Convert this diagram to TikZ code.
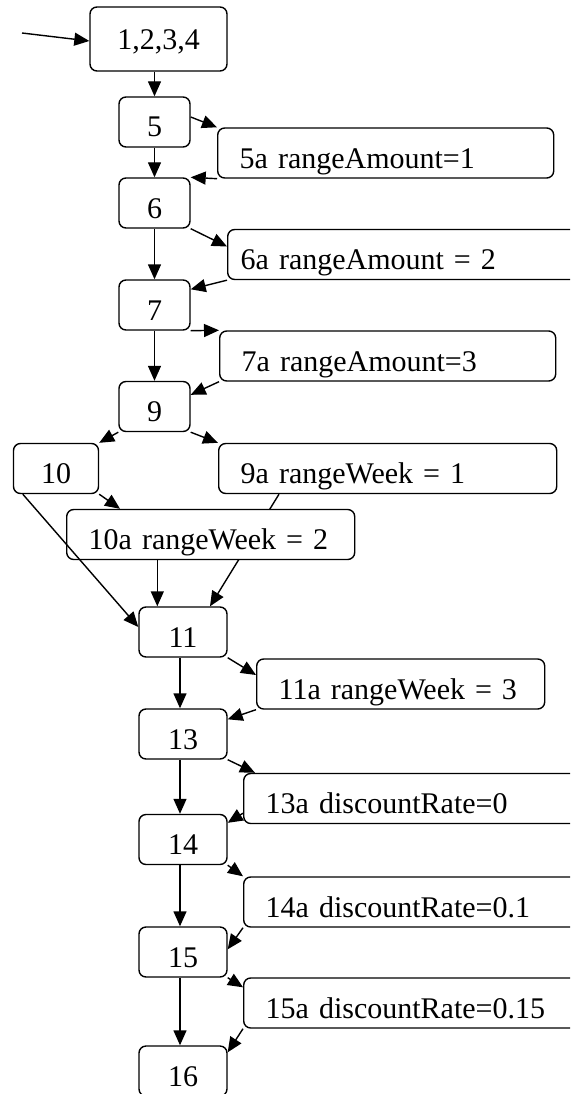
\documentclass[tikz,border=0pt]{standalone}
\usepackage{fontspec}
\setmainfont{Liberation Serif}
\usetikzlibrary{arrows.meta}

\tikzset{
  blk/.style={draw, rounded corners=7pt, line width=1.4pt, fill=white,
    minimum height=50pt, inner ysep=0pt, inner xsep=0pt,
    text height=30pt, text depth=0pt, font=\fontsize{30}{36}\selectfont},
  act/.style={blk, anchor=west, align=left, inner xsep=22pt, text width=#1},
  flow/.style={-{Triangle[length=15pt,width=13pt]}, line width=1.4pt},
}

\begin{document}
\begin{tikzpicture}[x=1pt, y=-1pt]
	\useasboundingbox (0,0) rectangle (570,1094);
	\clip (0,0) rectangle (570,1094);
	
	% main chain
	\node[blk, minimum width=137pt, minimum height=64pt, text height=22pt] (n1234) at (158.5,39) {1,2,3,4};
	\node[blk, minimum width=71pt] (n5) at (154.5,122) {5};
	\node[blk, minimum width=71pt] (n6) at (154.5,203) {6};
	\node[blk, minimum width=71pt] (n7) at (154.5,305) {7};
	\node[blk, minimum width=71pt] (n9) at (154.5,406.5) {9};
	\node[blk, minimum width=85pt] (n10) at (56,468.5) {10};
	\node[blk, minimum width=88pt] (n11) at (183,632) {11};
	\node[blk, minimum width=88pt] (n13) at (183,734) {13};
	\node[blk, minimum width=88pt] (n14) at (183,839.5) {14};
	\node[blk, minimum width=88pt] (n15) at (183,952) {15};
	\node[blk, minimum width=88pt] (n16) at (183,1071) {16};
	
	% assignments
	\node[act=292pt] (n5a) at (217,153) {5a rangeAmount=1};
	\node[act=374pt, inner xsep=13pt] (n6a) at (227,254.5) {6a rangeAmount = 2};
	\node[act=292pt] (n7a) at (219,356) {7a rangeAmount=3};
	\node[act=294pt] (n9a) at (218,468.5) {9a rangeWeek = 1};
	\node[act=244pt] (n11a) at (256,684) {11a rangeWeek = 3};
	\node[act=356pt] (n13a) at (243,798.5) {13a discountRate=0};
	\node[act=356pt] (n14a) at (243,902) {14a discountRate=0.1};
	\node[act=356pt] (n15a) at (243,1003) {15a discountRate=0.15};
	
	% this edge runs behind 10a
	\draw[flow] ([xshift=61pt]n9a.south west) -- ([xshift=27pt]n11.north);
	\node[act=244pt] (n10a) at (66,534.5) {10a rangeWeek = 2};
	
	\coordinate (entry) at (22,33);
	\draw[flow] (entry) -- ([yshift=-2pt]n1234.west);
	\draw[flow] (n1234.south -| n5.north) -- (n5.north);
	
	\draw[flow] ([yshift=5pt]n5.east) -- (n5a.north west);
	\draw[flow] (n5a.south west) -- (n6.north east);
	\draw[flow] (n5.south) -- (n6.north);
	
	\draw[flow] (n6.south east) -- ([yshift=8pt]n6a.west);
	\draw[flow] (n6a.south west) -- ([yshift=-10pt]n7.north east);
	\draw[flow] (n6.south) -- (n7.north);
	
	\draw[flow] (n7.south east) -- (n7a.north west);
	\draw[flow] (n7a.south west) -- ([yshift=-14pt]n9.north east);
	\draw[flow] (n7.south) -- (n9.north);
	
	\draw[flow] (n9.south west) -- (n10.north east);
	\draw[flow] (n9.south east) -- (n9a.north west);
	\draw[flow] (n10.south east) -- ([xshift=54pt]n10a.north west);
	\draw[flow] ([xshift=10pt]n10.south west) -- ([yshift=5pt]n11.west);
	\draw[flow] ([xshift=19pt]n11.north west |- n10a.south) -- ([xshift=19pt]n11.north west);
	
	\draw[flow] (n11.south east) -- ([yshift=9pt]n11a.west);
	\draw[flow] (n11a.south west) -- ([yshift=-11pt]n13.north east);
	\draw[flow] ([xshift=-3pt]n11.south) -- ([xshift=-3pt]n13.north);
	
	\draw[flow] (n13.south east) -- ([xshift=12pt]n13a.north west);
	\draw[flow] ([yshift=11pt]n13a.south west) -- ([yshift=-9pt]n14.north east);
	\draw[flow] ([xshift=-3pt]n13.south) -- ([xshift=-3pt]n14.north);
	
	\draw[flow] (n14.south east) -- (n14a.north west);
	\draw[flow] (n14a.south west) -- ([yshift=-23pt]n15.north east);
	\draw[flow] ([xshift=-3pt]n14.south) -- ([xshift=-3pt]n15.north);
	
	\draw[flow] (n15.south east) -- ([yshift=-10pt]n15a.north west);
	\draw[flow] (n15a.south west) -- ([yshift=-7pt]n16.north east);
	\draw[flow] ([xshift=-3pt]n15.south) -- ([xshift=-3pt]n16.north);
\end{tikzpicture}
\end{document}
